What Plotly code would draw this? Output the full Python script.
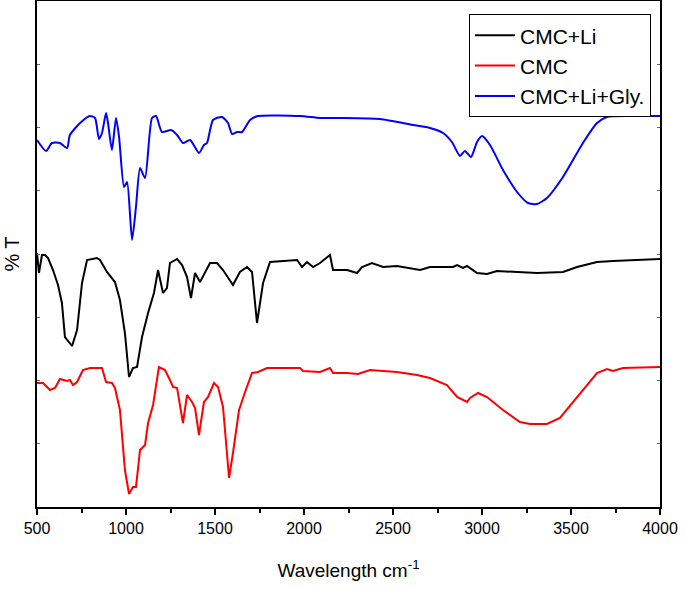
import plotly.graph_objects as go

# CMC+Li+Gly. (blue)
gly_x = [500, 551, 584, 629, 669, 685, 742, 798, 826, 848, 865, 888, 899, 921, 944, 961, 989, 1006, 1034, 1056,
         1079, 1107, 1146, 1169, 1202, 1253, 1287, 1320, 1360, 1410, 1438, 1455, 1489, 1539, 1573, 1596, 1624, 1652,
         1697, 1742, 1978, 2090, 2202, 2427, 2612, 2708, 2781, 2831, 2876, 2904, 2938, 2972, 3000, 3045, 3118, 3197,
         3258, 3309, 3365, 3455, 3567, 3646, 3702, 3831, 4000]
gly_y = [367, 356, 364, 364, 359, 372, 384, 391, 389, 368, 374, 394, 384, 357, 389, 370, 320, 325, 267, 300,
         339, 329, 389, 391, 375, 377, 372, 364, 367, 354, 362, 364, 387, 390, 384, 373, 375, 375,
         387, 391, 391, 389, 389, 388, 382, 379, 374, 365, 351, 356, 350, 365, 371, 362, 337, 315,
         304, 303, 309, 330, 364, 384, 390, 391, 391]

# CMC+Li (black)
li_x = [500, 511, 528, 545, 562, 590, 618, 640, 657, 697, 725, 753, 781, 837, 854, 893, 938, 966, 994, 1017,
        1039, 1062, 1090, 1124, 1157, 1180, 1208, 1230, 1247, 1287, 1315, 1343, 1365, 1388, 1416, 1472, 1511, 1545,
        1601, 1640, 1680, 1708, 1736, 1770, 1809, 1882, 1961, 1989, 2017, 2051, 2090, 2146, 2163, 2242, 2298, 2326,
        2382, 2444, 2522, 2652, 2708, 2837, 2860, 2893, 2916, 2972, 3028, 3084, 3174, 3309, 3455, 3534, 3646, 3736,
        4000]
li_y = [254, 234, 252, 252, 249, 237, 222, 204, 170, 161, 177, 224, 247, 249, 247, 235, 225, 207, 174, 130,
        139, 140, 170, 194, 214, 237, 214, 219, 244, 248, 242, 230, 209, 234, 225, 244, 244, 237,
        222, 235, 240, 235, 184, 224, 245, 246, 247, 240, 245, 240, 244, 252, 237, 237, 234, 240,
        244, 240, 241, 237, 240, 240, 242, 239, 241, 234, 233, 236, 235, 234, 235, 240, 245, 246,
        248]

# CMC (red)
cmc_x = [500, 534, 573, 601, 629, 669, 685, 702, 725, 758, 798, 865, 888, 921, 938, 966, 994, 1017, 1039, 1056,
         1079, 1107, 1124, 1152, 1185, 1219, 1247, 1264, 1287, 1320, 1343, 1371, 1388, 1410, 1438, 1461, 1494, 1517,
         1545, 1579, 1601, 1635, 1669, 1708, 1742, 1792, 1882, 1978, 1994, 2051, 2090, 2146, 2163, 2242, 2303, 2371,
         2522, 2635, 2708, 2803, 2860, 2916, 2933, 2978, 3028, 3118, 3213, 3270, 3365, 3438, 3534, 3646, 3702, 3736,
         3792, 4000]
cmc_y = [124, 124, 117, 119, 128, 126, 127, 122, 125, 137, 139, 139, 125, 124, 119, 97, 37, 13, 20, 20,
         57, 62, 84, 102, 140, 137, 127, 120, 119, 84, 112, 105, 99, 72, 105, 110, 124, 120,
         100, 29, 54, 97, 115, 134, 135, 139, 139, 139, 136, 135, 135, 139, 134, 134, 133, 137,
         135, 132, 129, 122, 110, 105, 109, 114, 110, 97, 85, 83, 83, 89, 110, 134, 138, 136,
         139, 140]

series_names = ["CMC+Li", "CMC", "CMC+Li+Gly."]
series_colors = ["#000000", "#ff0000", "#0000ff"]

fig = go.Figure()
fig.add_trace(go.Scatter(x=li_x, y=li_y, mode="lines", name=series_names[0],
                         line=dict(color=series_colors[0], width=2)))
fig.add_trace(go.Scatter(x=cmc_x, y=cmc_y, mode="lines", name=series_names[1],
                         line=dict(color=series_colors[1], width=2)))
fig.add_trace(go.Scatter(x=gly_x, y=gly_y, mode="lines", name=series_names[2],
                         line=dict(color=series_colors[2], width=2, shape="spline", smoothing=0.6)))

font_family = "Liberation Sans, Arial, sans-serif"
fig.update_layout(
    width=685, height=589,
    margin=dict(l=37, r=25, t=1, b=82, autoexpand=False),
    paper_bgcolor="white", plot_bgcolor="white",
    font=dict(family=font_family, color="black"),
    showlegend=True,
    legend=dict(x=0.9855, y=0.974, xanchor="right", yanchor="top",
                bordercolor="black", borderwidth=1, bgcolor="white",
                font=dict(size=21, family=font_family, color="black"), tracegroupgap=0, itemwidth=40),
    xaxis=dict(range=[500, 4000], dtick=500, tick0=500, showgrid=False, zeroline=False,
               showline=True, linecolor="black", linewidth=2, mirror=True, automargin=False,
               ticks="outside", ticklen=6, tickwidth=1.5, tickcolor="black",
               minor=dict(dtick=250, ticks="outside", ticklen=4, tickcolor="black"),
               tickfont=dict(size=16, color="black"),
               title=dict(text="Wavelength cm<sup>-1</sup>", font=dict(size=19, color="black"), standoff=27)),
    yaxis=dict(range=[0, 506], dtick=63.25, tick0=0, showgrid=False, zeroline=False,
               showline=True, linecolor="black", linewidth=2, mirror="ticks", automargin=False,
               ticks="inside", ticklen=3, tickcolor="#666666", showticklabels=False,
               title=dict(text="% T", font=dict(size=20, color="black"), standoff=10)),
)

fig.write_html("out.html", post_script="document.body.style.margin='0';",
               config={"displayModeBar": False})
